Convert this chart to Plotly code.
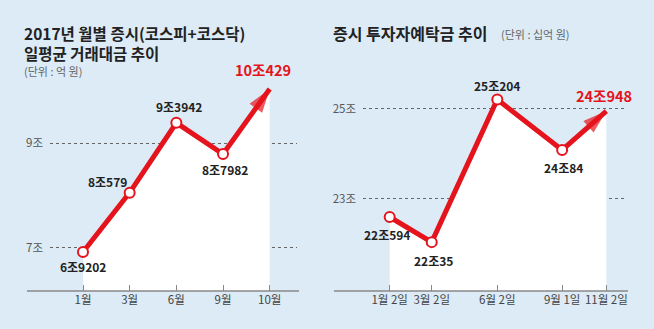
import plotly.graph_objects as go

W, H = 654, 329

# ---- data ----
months = ["1월", "3월", "6월", "9월", "10월"]
trade = [6.9202, 8.0579, 9.3942, 8.7982, 10.0429]          # 조 원
trade_labels = ["6조9202", "8조579", "9조3942", "8조7982", "10조429"]
trade_ticks = [7, 9]
trade_ticktext = ["7조", "9조"]

dep_dates = ["2017-01-02", "2017-03-02", "2017-06-02", "2017-09-01", "2017-11-02"]
dep_ticks = ["1월 2일", "3월 2일", "6월 2일", "9월 1일", "11월 2일"]
deposit = [22.594, 22.035, 25.204, 24.084, 24.948]          # 조 원
dep_labels = ["22조594", "22조35", "25조204", "24조84", "24조948"]
dep_yticks = [23, 25]
dep_yticktext = ["23조", "25조"]

RED = "#e5141c"
BG = "#dcebf6"
DARK = "#222222"
GRAY = "#555555"
CJK = "Noto Sans CJK KR, sans-serif"

def px(x):
    return x / W

def py(y):
    return 1 - y / H

fig = go.Figure()

def series(x, y, xa, ya):
    n = len(y)
    # line with white area beneath and hollow circle markers
    fig.add_trace(go.Scatter(
        x=x, y=y, xaxis=xa, yaxis=ya, mode="lines+markers",
        fill="tozeroy", fillcolor="white",
        line=dict(color=RED, width=5),
        marker=dict(symbol="circle", size=[10] * (n - 1) + [0], opacity=1,
                    color="#ffffff", line=dict(color=RED, width=2)),
        cliponaxis=False, hoverinfo="skip", showlegend=False))
    # arrow head on the last point, oriented along the last segment
    fig.add_trace(go.Scatter(
        x=x[-2:], y=y[-2:], xaxis=xa, yaxis=ya, mode="markers",
        marker=dict(symbol="arrow", angleref="previous", size=[0, 25],
                    color=RED, line=dict(width=0)),
        cliponaxis=False, hoverinfo="skip", showlegend=False))

series(months, trade, "x", "y")
series(dep_dates, deposit, "x2", "y2")

ydom = [py(291), py(80)]
axis_common = dict(showline=False, zeroline=False)
fig.update_layout(
    width=W, height=H, margin=dict(l=0, r=0, t=0, b=0),
    paper_bgcolor=BG, plot_bgcolor=BG, showlegend=False,
    xaxis=dict(domain=[px(50), px(297)], type="category", range=[-0.707, 4.585],
               ticks="inside", ticklen=6, tickcolor="#888", tickwidth=1,
               showgrid=False, tickfont=dict(family=CJK, size=11.5, color="#444"),
               **axis_common),
    yaxis=dict(domain=ydom, range=[6.175, 10.214], tickvals=trade_ticks,
               ticktext=trade_ticktext, showgrid=True, griddash="dot",
               gridcolor="#666", gridwidth=1, ticks="", ticklabelstandoff=6,
               tickfont=dict(family=CJK, size=11.5, color=GRAY), **axis_common),
    xaxis2=dict(domain=[px(363), px(627)], type="date",
                range=["2016-11-25 14:00", "2017-12-01"],
                tickvals=dep_dates, ticktext=dep_ticks,
                ticks="inside", ticklen=6, tickcolor="#888", tickwidth=1,
                showgrid=False, tickfont=dict(family=CJK, size=11.5, color="#444"),
                **axis_common),
    yaxis2=dict(domain=ydom, range=[20.949, 25.638], tickvals=dep_yticks,
                ticktext=dep_yticktext, showgrid=True, griddash="dot",
                gridcolor="#666", gridwidth=1, ticks="", ticklabelstandoff=6,
                tickfont=dict(family=CJK, size=11.5, color=GRAY), anchor="x2",
                **axis_common),
)

# baselines
for x0, x1 in [(27, 299), (334, 628)]:
    fig.add_shape(type="line", xref="paper", yref="paper",
                  x0=px(x0), x1=px(x1), y0=py(291), y1=py(291),
                  line=dict(color="#888", width=1.5), layer="above")

ann = []
ann.append(dict(text="<b>2017년 월별 증시(코스피+코스닥)<br>일평균 거래대금 추이</b>",
                x=px(22), y=py(42.5), size=15.5))
ann.append(dict(text="(단위 : 억 원)", x=px(22), y=py(71), size=11, color="#666"))
ann.append(dict(text="<b>증시 투자자예탁금 추이</b>", x=px(331), y=py(33), size=16))
ann.append(dict(text="(단위 : 십억 원)", x=px(499), y=py(34), size=11, color="#666"))
for a in ann:
    fig.add_annotation(text=a["text"], x=a["x"], y=a["y"], xref="paper", yref="paper",
                       xanchor="left", yanchor="middle", align="left", showarrow=False,
                       font=dict(family=CJK, size=a["size"], color=a.get("color", DARK)))

# data labels
left_shift = [(0, -14), (-22, 11), (3, 16), (2, -16), (-7, 19)]
right_shift = [(-3, -18), (2, -18), (0, 14), (1, -18), (-2, 16)]
for i, (xv, yv, t) in enumerate(zip(months, trade, trade_labels)):
    last = i == len(trade) - 1
    fig.add_annotation(x=xv, y=yv, xref="x", yref="y", text=f"<b>{t}</b>",
                       showarrow=False, xshift=left_shift[i][0], yshift=left_shift[i][1],
                       font=dict(family=CJK, size=14.5 if last else 12,
                                 color=RED if last else DARK))
for i, (xv, yv, t) in enumerate(zip(dep_dates, deposit, dep_labels)):
    last = i == len(deposit) - 1
    fig.add_annotation(x=xv, y=yv, xref="x2", yref="y2", text=f"<b>{t}</b>",
                       showarrow=False, xshift=right_shift[i][0], yshift=right_shift[i][1],
                       font=dict(family=CJK, size=14.5 if last else 12,
                                 color=RED if last else DARK))

fig.write_html("out.html")
